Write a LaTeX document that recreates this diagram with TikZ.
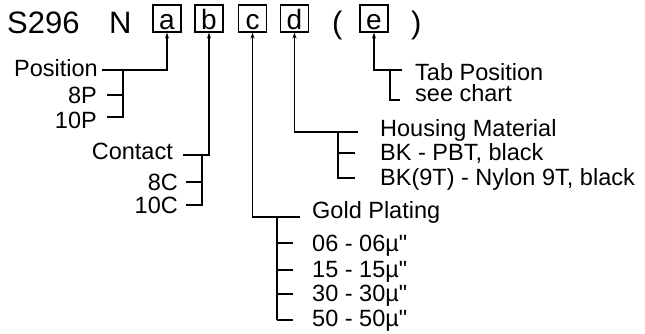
\documentclass[tikz,border=0pt]{standalone}
\usepackage{fontspec}
\setmainfont{Liberation Sans}[Ligatures=TeXOff]
\usetikzlibrary{positioning,arrows.meta}

\begin{document}
\begin{tikzpicture}[x=1pt, y=-1pt,
    code/.style={inner sep=0, anchor=base west, font=\fontsize{31}{31}\selectfont},
    slot/.style={rectangle, draw, line width=1.3pt, inner sep=0, minimum width=28pt,
        minimum height=27pt, text height=21pt, text depth=0pt, font=\fontsize{28}{28}\selectfont},
    lbl/.style={inner sep=0, font=\fontsize{23.5}{23.5}\selectfont},
    wire/.style={line width=1.3pt},
    tip/.style={wire, -{Stealth[length=6pt, width=4pt]}}
]
\useasboundingbox (0,0) rectangle (645,333);

\node [code] (part) at (7,33) {S296};
\node [code] (ser) at (109,33) {N};
\node [slot] (a) at (167,18.5) {a};
\node [slot] (b) at (209,18.5) {b};
\node [slot] (c) at (252.5,18.5) {c};
\node [slot] (d) at (294.5,18.5) {d};
\node [code] (lp) at (332,33) {(};
\node [slot] (e) at (374,18.5) {e};
\node [code] (rp) at (411,33) {)};

\node [lbl, anchor=base east] (pos) at (98,76) {Position};
\node [lbl, anchor=base east] (p8) at (97,103) {8P};
\node [lbl, anchor=base east] (p10) at (97,128) {10P};
\coordinate (pj) at (123,70);
\coordinate (pa) at (102,70);
\draw [tip] (pa) -- (a.south |- pa) -- (a.south);
\draw [wire] (pj) |- (107,117);
\draw [wire] (107,95) -- (pj |- 0,95);

\node [lbl, anchor=base east] (con) at (173,159) {Contact};
\node [lbl, anchor=base east] (c8) at (178,190) {8C};
\node [lbl, anchor=base east] (c10) at (178,213) {10C};
\coordinate (cj) at (202,155);
\coordinate (cb) at (183,155);
\draw [tip] (cb) -- (b.south |- cb) -- (b.south);
\draw [wire] (cj) |- (186,205);
\draw [wire] (186,182) -- (cj |- 0,182);

\node [lbl, anchor=base west] (gold) at (312,218.3) {Gold Plating};
\coordinate (gj) at (277,217);
\coordinate (gc) at (300,217);
\draw [tip] (gc) -- (c.south |- gc) -- (c.south);
\foreach \v/\b/\t in {06/251.7/243, 15/277/270, 30/301.7/294, 50/326.7/320} {
    \node [lbl, anchor=base west] (g\v) at (312,\b) {\v{} - \v{}µ"};
    \draw [wire] (gj |- 0,\t) -- (293,\t);
}
\draw [wire] (gj) -- (gj |- 0,320);

\node [lbl, anchor=base west] (hm) at (380,136.7) {Housing Material};
\node [lbl, anchor=base west] (pbt) at (380,160) {BK - PBT, black};
\node [lbl, anchor=base west] (nyl) at (380,185) {BK(9T) - Nylon 9T, black};
\coordinate (hj) at (338,132);
\coordinate (hd) at (358,132);
\draw [tip] (hd) -- (d.south |- hd) -- (d.south);
\draw [wire] (hj) |- (355,178);
\draw [wire] (355,153) -- (hj |- 0,153);

\node [lbl, anchor=base west] (tab) at (415,80) {Tab Position};
\node [lbl, anchor=base west] (see) at (415,101.7) {see chart};
\coordinate (tj) at (390,70);
\coordinate (te) at (402,70);
\draw [tip] (te) -- (e.south |- te) -- (e.south);
\draw [wire] (tj) |- (400,100);
\end{tikzpicture}
\end{document}
